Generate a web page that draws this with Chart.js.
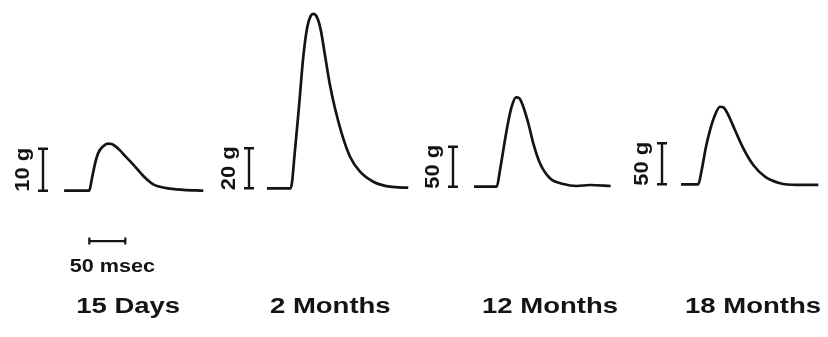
<!DOCTYPE html>
<html>
<head>
<meta charset="utf-8">
<script src="https://cdn.jsdelivr.net/npm/chart.js@4/dist/chart.umd.min.js"></script>
<style>
  html, body { margin: 0; padding: 0; background: #ffffff; }
  #wrap { width: 828px; height: 337px; position: relative; }
</style>
</head>
<body>
<div id="wrap"><canvas id="c" width="828" height="337"></canvas></div>
<script>
// ---------- DATA (time in msec from onset of contraction, force in g) ----------
const panelLabels = ['15 Days', '2 Months', '12 Months', '18 Months'];
const forceBarLabels = ['10 g', '20 g', '50 g', '50 g'];
const forceBarValues = [10, 20, 50, 50];
const timeBarValue = 50;
const timeBarLabel = '50 msec';

const time15Days = [-35, 0, 3.3, 7.9, 12.5, 19.4, 26, 31, 36, 42.6, 49.6, 61.1, 75, 88.9, 107.5, 130.6, 158.3];
const force15Days = [0, 0, 2.6, 6.4, 9.0, 10.6, 11.2, 11.1, 10.6, 9.6, 8.3, 6.2, 3.5, 1.5, 0.6, 0.2, 0];

const time2Months = [-33, 0, 6, 11.5, 17.5, 23.1, 27.8, 31.4, 36.1, 41.7, 47.6, 54.6, 61.5, 70.8, 82.4, 96.3, 114.7, 137.9, 163.3];
const force2Months = [0, 0, 19.2, 40.8, 65.8, 80.8, 86.2, 87.2, 85.8, 79.2, 66.5, 51.5, 40.0, 27.5, 15.8, 8.3, 3.3, 0.8, 0.3];

const time12Months = [-31.5, 0, 4.6, 9.2, 14.7, 20.8, 26.8, 31.4, 36.9, 43.9, 50.8, 60.1, 74, 92.5, 111.1, 129.6, 158.3];
const force12Months = [0, 0, 20.9, 45.9, 75, 100, 111.7, 110.5, 100, 79.3, 54.3, 29.3, 10.5, 3.4, 0.9, 2.1, 0.9];

const time18Months = [-24, 0, 4.7, 10.7, 16.3, 23.2, 30.1, 34.7, 41.7, 50.9, 62.5, 76.4, 92.6, 113.5, 136.7, 166.7];
const force18Months = [0, 0, 17.4, 45.9, 66.2, 84.5, 94.6, 93.9, 84.5, 66.2, 43.9, 23.5, 9.3, 1.2, -0.8, -0.8];

const seriesTimes = [time15Days, time2Months, time12Months, time18Months];
const seriesForces = [force15Days, force2Months, force12Months, force18Months];

// ---------- LAYOUT (pixel placement of each panel's scales) ----------
const W = 828, H = 337;
const pxPerMs = 0.72;
const panelLayout = [
  { originX: 89.3,  baseY: 190.7, pxPerG: 4.2,  barMs: -64.3, labelMs: 54 },
  { originX: 290.7, baseY: 188.3, pxPerG: 2.0,  barMs: -57.9, labelMs: 55 },
  { originX: 496.7, baseY: 186.7, pxPerG: 0.8,  barMs: -60.7, labelMs: 74 },
  { originX: 698.3, baseY: 184.3, pxPerG: 0.82, barMs: -50.4, labelMs: 76 }
];
const INK = '#141414';

const scales = {};
const datasets = [];
panelLayout.forEach((p, i) => {
  const n = i + 1;
  scales['x' + n] = {
    type: 'linear', display: false, axis: 'x',
    min: -p.originX / pxPerMs, max: (W - p.originX) / pxPerMs
  };
  scales['y' + n] = {
    type: 'linear', display: false, axis: 'y',
    min: -(H - p.baseY) / p.pxPerG, max: p.baseY / p.pxPerG
  };
  datasets.push({
    label: panelLabels[i],
    data: seriesTimes[i].map((t, k) => ({ x: t, y: seriesForces[i][k] })),
    xAxisID: 'x' + n, yAxisID: 'y' + n,
    borderColor: INK, borderWidth: 2.7,
    pointRadius: 0, fill: false,
    tension: 0.4, cubicInterpolationMode: 'monotone'
  });
});

function drawWideText(ctx, text, x, y, font, sx, align) {
  ctx.save();
  ctx.font = font;
  ctx.textAlign = 'center';
  ctx.textBaseline = align || 'alphabetic';
  ctx.translate(x, y);
  ctx.scale(sx, 1);
  ctx.fillText(text, 0, 0);
  ctx.restore();
}

const annotations = {
  id: 'annotations',
  afterDatasetsDraw(chart) {
    const ctx = chart.ctx;
    ctx.save();
    ctx.strokeStyle = INK;
    ctx.fillStyle = INK;
    ctx.lineCap = 'butt';
    panelLayout.forEach((p, i) => {
      const xs = chart.scales['x' + (i + 1)];
      const ys = chart.scales['y' + (i + 1)];
      // force calibration bar
      const bx = xs.getPixelForValue(p.barMs);
      const y0 = ys.getPixelForValue(0);
      const y1 = ys.getPixelForValue(forceBarValues[i]);
      ctx.lineWidth = 2.4;
      ctx.beginPath();
      ctx.moveTo(bx, y0); ctx.lineTo(bx, y1);
      ctx.moveTo(bx - 5, y0); ctx.lineTo(bx + 5, y0);
      ctx.moveTo(bx - 5, y1); ctx.lineTo(bx + 5, y1);
      ctx.stroke();
      // rotated label
      ctx.save();
      ctx.translate(bx - 20, (y0 + y1) / 2);
      ctx.rotate(-Math.PI / 2);
      ctx.scale(1.1, 1);
      ctx.font = 'bold 20px "Liberation Sans", Arial, sans-serif';
      ctx.textAlign = 'center';
      ctx.textBaseline = 'middle';
      ctx.fillText(forceBarLabels[i], 0, 0);
      ctx.restore();
      // panel label
      drawWideText(ctx, panelLabels[i], xs.getPixelForValue(p.labelMs), 313,
        'bold 22px "Liberation Sans", Arial, sans-serif', 1.25);
    });
    // time calibration bar (panel 1)
    const xs = chart.scales.x1, ys = chart.scales.y1;
    const tx0 = xs.getPixelForValue(0), tx1 = xs.getPixelForValue(timeBarValue);
    const ty = ys.getPixelForValue(-12);
    ctx.lineWidth = 2.2;
    ctx.beginPath();
    ctx.moveTo(tx0, ty); ctx.lineTo(tx1, ty);
    ctx.moveTo(tx0, ty - 3.5); ctx.lineTo(tx0, ty + 3.5);
    ctx.moveTo(tx1, ty - 3.5); ctx.lineTo(tx1, ty + 3.5);
    ctx.stroke();
    drawWideText(ctx, timeBarLabel, (tx0 + tx1) / 2 + 5, ty + 31,
      'bold 18px "Liberation Sans", Arial, sans-serif', 1.2);
    ctx.restore();
  }
};

new Chart(document.getElementById('c'), {
  type: 'line',
  data: { datasets },
  options: {
    responsive: false,
    animation: false,
    events: [],
    layout: { padding: 0 },
    plugins: { legend: { display: false }, tooltip: { enabled: false }, title: { display: false } },
    scales
  },
  plugins: [annotations]
});
</script>
</body>
</html>
